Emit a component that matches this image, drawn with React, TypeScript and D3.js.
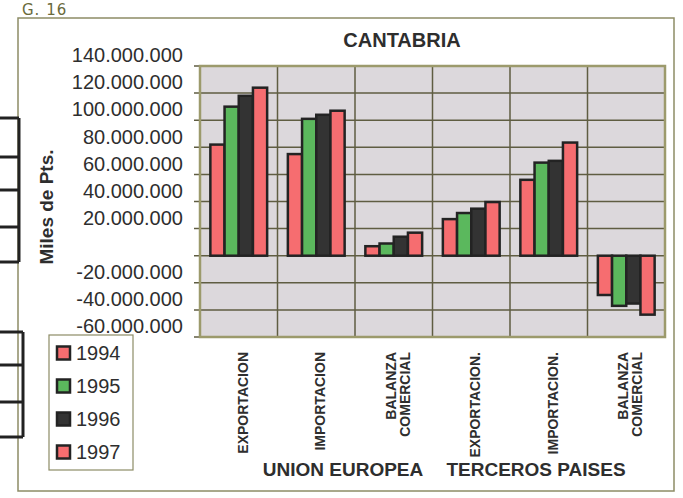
import React from "react";
import * as d3 from "d3";

// ---- data (values in Miles de Pts.) ----
const categoryIds = ["ue_exp", "ue_imp", "ue_bal", "tp_exp", "tp_imp", "tp_bal"];
const categoryLabels = [
  ["EXPORTACION"],
  ["IMPORTACION"],
  ["BALANZA", "COMERCIAL"],
  ["EXPORTACION."],
  ["IMPORTACION."],
  ["BALANZA", "COMERCIAL"],
];
const years = ["1994", "1995", "1996", "1997"];
const values1994 = [82e6, 75e6, 7e6, 27e6, 56e6, -29e6];
const values1995 = [110e6, 101e6, 9e6, 31.5e6, 68.7e6, -37e6];
const values1996 = [118e6, 104e6, 14e6, 34.7e6, 70e6, -35.3e6];
const values1997 = [124e6, 107e6, 17e6, 39.6e6, 83.5e6, -43.5e6];
const seriesValues = [values1994, values1995, values1996, values1997];
const yTickValues = [-60e6, -40e6, -20e6, 0, 20e6, 40e6, 60e6, 80e6, 100e6, 120e6, 140e6];
const groupLabels = ["UNION EUROPEA", "TERCEROS PAISES"];
const title = "CANTABRIA";
const yTitle = "Miles de Pts.";

const seriesColors = ["#f66d70", "#5bb85d", "#333333", "#f66d70"];

const W = 683;
const H = 498;
const plot = { left: 200, right: 665, top: 66, bottom: 337 };

const fmt = (v: number) => {
  const s = Math.abs(v).toString().replace(/\B(?=(\d{3})+(?!\d))/g, ".");
  return (v < 0 ? "-" : "") + s;
};

export default function App() {
  const x0 = d3.scaleBand<string>().domain(categoryIds).range([plot.left, plot.right]).padding(0);
  const x1 = d3
    .scaleBand<string>()
    .domain(years)
    .range([0, x0.bandwidth()])
    .paddingInner(0)
    .paddingOuter(0.73);
  const y = d3.scaleLinear().domain([-60e6, 140e6]).range([plot.bottom, plot.top]);

  const textColor = "#2e2e2e";
  const gridColor = "#5f5d42";
  const font = "'Liberation Sans', Arial, sans-serif";

  return (
    <svg
      width={W}
      height={H}
      viewBox={`0 0 ${W} ${H}`}
      style={{ position: "absolute", left: 0, top: 0, background: "#ffffff" }}
      fontFamily={font}
    >
      {/* handwritten reference */}
      <text x={22} y={15} fontSize={15} fill="#6a6a3c" fontFamily="'DejaVu Sans', sans-serif" letterSpacing={1}>
        G. 16
      </text>
      {/* page frame */}
      <rect x={18} y={18} width={656} height={473} fill="none" stroke="#8d8c66" strokeWidth={1.5} />
      {/* binder marks on the left */}
      <g stroke="#222" strokeWidth={3} fill="none">
        {[118, 157, 190, 227, 262].map((yy) => (
          <line key={"a" + yy} x1={0} x2={19} y1={yy} y2={yy} />
        ))}
        <line x1={19} x2={19} y1={118} y2={262} />
        {[332, 365, 402, 437].map((yy) => (
          <line key={"b" + yy} x1={0} x2={23} y1={yy} y2={yy} />
        ))}
        <line x1={23} x2={23} y1={332} y2={437} />
      </g>

      {/* title */}
      <text x={402} y={47} textAnchor="middle" fontSize={20} fontWeight="bold" fill={textColor}>
        {title}
      </text>

      {/* plot area */}
      <rect
        x={plot.left}
        y={plot.top}
        width={plot.right - plot.left}
        height={plot.bottom - plot.top}
        fill="#dcd8dc"
      />
      {/* horizontal grid */}
      {yTickValues.map((v) => (
        <line
          key={"h" + v}
          x1={plot.left - 6}
          x2={plot.right}
          y1={y(v)}
          y2={y(v)}
          stroke={gridColor}
          strokeWidth={1.5}
        />
      ))}
      {/* vertical grid */}
      {categoryIds.slice(1).map((c) => (
        <line
          key={"v" + c}
          x1={x0(c)}
          x2={x0(c)}
          y1={plot.top}
          y2={plot.bottom}
          stroke={gridColor}
          strokeWidth={1.5}
        />
      ))}
      <rect
        x={plot.left}
        y={plot.top}
        width={plot.right - plot.left}
        height={plot.bottom - plot.top}
        fill="none"
        stroke="#9c9a6c"
        strokeWidth={2.5}
      />

      {/* bars */}
      {categoryIds.map((c, ci) => (
        <g key={c} transform={`translate(${x0(c)},0)`}>
          {years.map((yr, si) => {
            const v = seriesValues[si][ci];
            const y0 = y(0);
            const yv = y(v);
            return (
              <rect
                key={yr}
                x={x1(yr)}
                y={Math.min(y0, yv)}
                width={x1.bandwidth()}
                height={Math.abs(yv - y0)}
                fill={seriesColors[si]}
                stroke="#232323"
                strokeWidth={2.5}
              />
            );
          })}
        </g>
      ))}

      {/* y tick labels (offset upward as in the original print) */}
      {yTickValues
        .filter((v) => v !== 0)
        .map((v) => (
          <text
            key={"t" + v}
            x={183}
            y={y(v) - 11}
            dy="0.36em"
            textAnchor="end"
            fontSize={20}
            fill={textColor}
          >
            {fmt(v)}
          </text>
        ))}

      {/* y axis title */}
      <text
        transform={`translate(53,207) rotate(-90)`}
        textAnchor="middle"
        fontSize={19}
        fontWeight="bold"
        fill={textColor}
      >
        {yTitle}
      </text>

      {/* category labels */}
      {categoryIds.map((c, ci) => {
        const lines = categoryLabels[ci];
        const cx = (x0(c) as number) + x0.bandwidth() / 2 + 4;
        return lines.map((ln, li) => {
          const off = (li - (lines.length - 1) / 2) * 14;
          return (
            <text
              key={c + li}
              transform={`translate(${cx + off + 5},352) rotate(-90)`}
              textAnchor="end"
              fontSize={14}
              fontWeight="bold"
              fill={textColor}
            >
              {ln}
            </text>
          );
        });
      })}

      {/* group labels */}
      <text x={343} y={476} textAnchor="middle" fontSize={19} fontWeight="bold" fill={textColor}>
        {groupLabels[0]}
      </text>
      <text x={536} y={476} textAnchor="middle" fontSize={19} fontWeight="bold" fill={textColor}>
        {groupLabels[1]}
      </text>

      {/* legend */}
      <rect x={49} y={335} width={84} height={135} fill="#ffffff" stroke="#8d8c66" strokeWidth={1.2} />
      {years.map((yr, i) => {
        const cy = 353 + i * 33;
        return (
          <g key={"l" + yr}>
            <rect
              x={57}
              y={cy - 6.5}
              width={13}
              height={13}
              fill={seriesColors[i]}
              stroke="#232323"
              strokeWidth={2.5}
            />
            <text x={76} y={cy} dy="0.36em" fontSize={20} fill={textColor}>
              {yr}
            </text>
          </g>
        );
      })}
    </svg>
  );
}
